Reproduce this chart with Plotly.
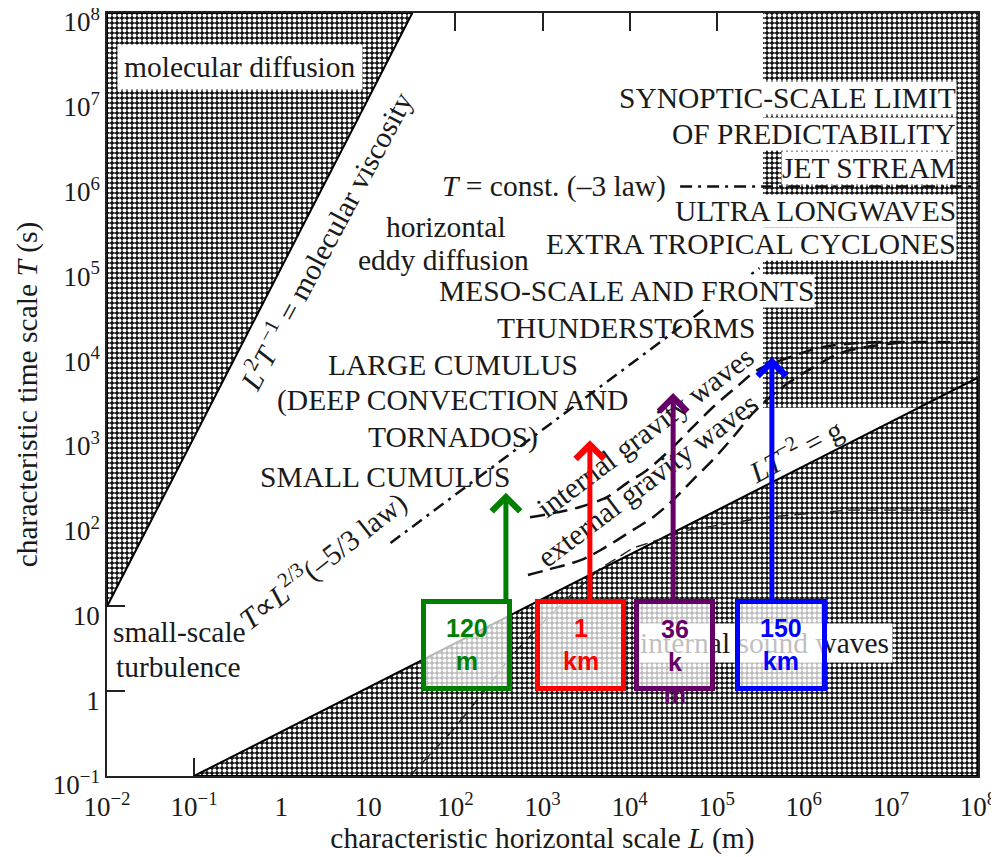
import math
import plotly.graph_objects as go

# ---------------- data ----------------
x_tick_vals = [1e-2, 1e-1, 1, 10, 1e2, 1e3, 1e4, 1e5, 1e6, 1e7, 1e8]
x_tick_text = ["10<sup>−2</sup>", "10<sup>−1</sup>", "1", "10", "10<sup>2</sup>", "10<sup>3</sup>",
               "10<sup>4</sup>", "10<sup>5</sup>", "10<sup>6</sup>", "10<sup>7</sup>", "10<sup>8</sup>"]
y_tick_vals = [1e-1, 1, 10, 1e2, 1e3, 1e4, 1e5, 1e6, 1e7, 1e8]
y_tick_text = ["10<sup>−1</sup>", "1", "10", "10<sup>2</sup>", "10<sup>3</sup>", "10<sup>4</sup>",
               "10<sup>5</sup>", "10<sup>6</sup>", "10<sup>7</sup>", "10<sup>8</sup>"]

# molecular diffusion region (bounded by L^2 T^-1 = molecular viscosity)
mol_L = [1e-2, 32, 1e-2, 1e-2]
mol_T = [10, 1e8, 1e8, 10]

# region below L T^-2 = g
grav_L = [0.1, 1e8, 1e8, 0.1]
grav_T = [0.1, 5000, 0.1, 0.1]

# synoptic-scale limit of predictability region
syn_L = [3.4e5, 1e8, 1e8, 3.4e5, 3.4e5]
syn_T = [2200, 2200, 1e8, 1e8, 2200]

# T = const. (-3 law)
tconst_L = [3.8e4, 1e8]
tconst_T = [9e5, 9e5]

# T ~ L^(2/3) (-5/3 law)
k53_L = [18, 3.1e5]
k53_T = [56, 9.8e4]

# internal gravity waves
igw_L = [718, 1320, 2700, 5500, 9300, 15800, 29000, 49000, 91000, 1.7e5, 2.9e5, 6.9e5, 1.5e6, 4.8e6, 1e8]
igw_T = [113, 126, 149, 195, 285, 405, 700, 1200, 2250, 3900, 6100, 8700, 11200, 12900, 12900]

# external gravity waves
egw_L = [680, 1130, 2700, 4600, 11000, 18600, 31600, 53000, 91000, 1.55e5, 2.6e5, 4.1e5, 6.9e5, 1.35e6, 2.6e6, 5.8e6, 1.26e7]
egw_T = [23.5, 27, 35, 46, 80, 113, 180, 310, 540, 1000, 1900, 2950, 4450, 6800, 9700, 11700, 12900]

# internal sound waves
snd_L = [30, 87, 190, 425, 940, 2100, 4600, 11000, 49000, 3.8e5, 3.2e6, 1e8]
snd_T = [0.1, 0.32, 0.85, 2.5, 6, 13.5, 28, 49, 80, 113, 137, 137]

# coloured scale markers
mark_labels = ["120<br>m", "1<br>km", "36<br>k<br>m", "150<br>km"]
mark_colors = ["#008000", "#ff0000", "#660066", "#0000ff"]
mark_box_L = [135, 2750, 33100, 550000]
mark_box_w = [81, 81, 71, 82]
mark_arrow_L = [380, 3500, 31600, 430000]
mark_arrow_tip_T = [220, 910, 3300, 8700]
mark_arrow_base_T = 11.5
mark_box_T = 3.55

# ---------------- figure ----------------
FONT = "Liberation Serif"
INK = "#1a1a1a"
FS = 29.5
PAT = dict(shape=".", bgcolor="#111111", fgcolor="white", size=5, solidity=0.5, fillmode="replace")

fig = go.Figure()

fig.add_trace(go.Scatter(x=syn_L, y=syn_T, mode="lines", fill="toself", fillpattern=PAT,
                         line=dict(width=0), hoverinfo="skip"))
fig.add_trace(go.Scatter(x=mol_L, y=mol_T, mode="lines", fill="toself", fillpattern=PAT,
                         line=dict(color="black", width=2), hoverinfo="skip"))
fig.add_trace(go.Scatter(x=grav_L, y=grav_T, mode="lines", fill="toself", fillpattern=PAT,
                         line=dict(color="black", width=2), hoverinfo="skip"))

fig.add_trace(go.Scatter(x=snd_L, y=snd_T, mode="lines",
                         line=dict(color="#222", width=1.4, dash="12px,6px"), hoverinfo="skip"))
fig.add_trace(go.Scatter(x=igw_L, y=igw_T, mode="lines", line_shape="spline",
                         line=dict(color="#111", width=2.5, dash="15px,8px"), hoverinfo="skip"))
fig.add_trace(go.Scatter(x=egw_L, y=egw_T, mode="lines", line_shape="spline",
                         line=dict(color="#111", width=2.5, dash="15px,8px"), hoverinfo="skip"))
fig.add_trace(go.Scatter(x=k53_L, y=k53_T, mode="lines",
                         line=dict(color="#111", width=2.5, dash="12px,6px,3px,6px"), hoverinfo="skip"))
fig.add_trace(go.Scatter(x=tconst_L, y=tconst_T, mode="lines",
                         line=dict(color="#111", width=2.5, dash="12px,6px,3px,6px"), hoverinfo="skip"))

ann = []


def txt(text, lx, ly, angle=0, bg=None, xanchor="center", pad=1, size=FS):
    d = dict(text=text, x=lx, y=ly, xref="x", yref="y", showarrow=False, textangle=angle,
             xanchor=xanchor, yanchor="middle", font=dict(family=FONT, size=size, color=INK),
             borderpad=pad)
    if bg:
        d["bgcolor"] = bg
    ann.append(d)


txt("molecular diffusion", -0.47, 7.36, bg="white", pad=6)
txt("<i>L</i><sup>2</sup><i>T</i><sup> −1</sup> = molecular viscosity", 0.50, 5.32, angle=-62)
txt("horizontal", 1.89, 5.47)
txt("eddy diffusion", 1.86, 5.09)
txt("<i>T</i> = const. (–3 law)", 3.13, 5.95)
for t, ly in [("SYNOPTIC-SCALE LIMIT", 7.0), ("OF PREDICTABILITY", 6.57), ("JET STREAM", 6.17),
              ("ULTRA LONGWAVES", 5.67), ("EXTRA TROPICAL CYCLONES", 5.27)]:
    txt(t, 7.76, ly, bg="white", xanchor="right", pad=0)
txt("MESO-SCALE AND FRONTS", 3.96, 4.72, bg="white", pad=0)
txt("THUNDERSTORMS", 3.96, 4.28)
txt("LARGE CUMULUS", 1.97, 3.85)
txt("(DEEP CONVECTION AND", 1.97, 3.43)
txt("TORNADOS)", 1.97, 2.99)
txt("SMALL CUMULUS", 1.20, 2.53)
txt("small-scale", -1.17, 0.70)
txt("turbulence", -1.18, 0.29)
txt("internal gravity waves", 4.18, 3.06, angle=-37)
txt("external gravity waves", 4.21, 2.49, angle=-37)
txt("<i>LT</i><sup>−2</sup> = g", 5.90, 2.86, angle=-28)
txt("<i>T</i>∝<i>L</i><sup>2/3</sup>(–5/3 law)", 0.47, 1.55, angle=-38)
txt("internal sound waves", 5.55, 0.57, bg="white", pad=3)

# coloured markers: arrows, boxes, labels
for lab, col, bL, bw, aL, tipT in zip(mark_labels, mark_colors, mark_box_L, mark_box_w,
                                       mark_arrow_L, mark_arrow_tip_T):
    ann.append(dict(text="", x=math.log10(aL), y=math.log10(tipT), xref="x", yref="y",
                    ax=math.log10(aL), ay=math.log10(mark_arrow_base_T), axref="x", ayref="y",
                    showarrow=True, arrowhead=4, arrowsize=1.1, arrowwidth=5, arrowcolor=col,
                    standoff=0, startstandoff=0))
    ann.append(dict(text="", x=math.log10(bL), y=math.log10(mark_box_T), xref="x", yref="y",
                    showarrow=False, width=bw, height=82, borderpad=0, borderwidth=5,
                    bordercolor=col, bgcolor="rgba(255,255,255,0.72)"))
    ly = math.log10(mark_box_T) + (-0.2 if "k<br>m" in lab else 0.0)
    ann.append(dict(text="<b>" + lab + "</b>", x=math.log10(bL), y=ly, xref="x", yref="y",
                    showarrow=False, font=dict(family="Liberation Sans", size=25, color=col)))

# page body adds an 8 px offset; sizes compensate so the plot sits where the reference has it
fig.update_layout(
    width=991, height=849,
    margin=dict(l=99, r=21, t=5, b=81),
    plot_bgcolor="white", paper_bgcolor="white",
    showlegend=False,
    font=dict(family=FONT, size=FS, color=INK),
    annotations=ann,
)
fig.update_xaxes(type="log", range=[-2, 8], tickvals=x_tick_vals, ticktext=x_tick_text,
                 ticks="inside", ticklen=18, tickwidth=1.5, tickcolor="#222",
                 showline=True, linecolor="#222", linewidth=1.5, mirror="ticks",
                 showgrid=False, zeroline=False, layer="below traces",
                 ticklabeloverflow="allow",
                 tickfont=dict(family=FONT, size=27, color=INK), ticklabelstandoff=6,
                 title=dict(text="characteristic horizontal scale <i>L</i> (m)",
                            font=dict(family=FONT, size=FS, color=INK), standoff=2),
                 automargin=False)
fig.update_yaxes(type="log", range=[-1, 8], tickvals=y_tick_vals, ticktext=y_tick_text,
                 ticks="inside", ticklen=18, tickwidth=1.5, tickcolor="#222",
                 showline=True, linecolor="#222", linewidth=1.5, mirror="ticks",
                 showgrid=False, zeroline=False, layer="below traces",
                 ticklabeloverflow="allow", ticklabelshift=9,
                 tickfont=dict(family=FONT, size=27, color=INK),
                 title=dict(text="characteristic time scale <i>T</i> (s)",
                            font=dict(family=FONT, size=FS, color=INK), standoff=6),
                 automargin=False)

fig.write_html("out.html")
